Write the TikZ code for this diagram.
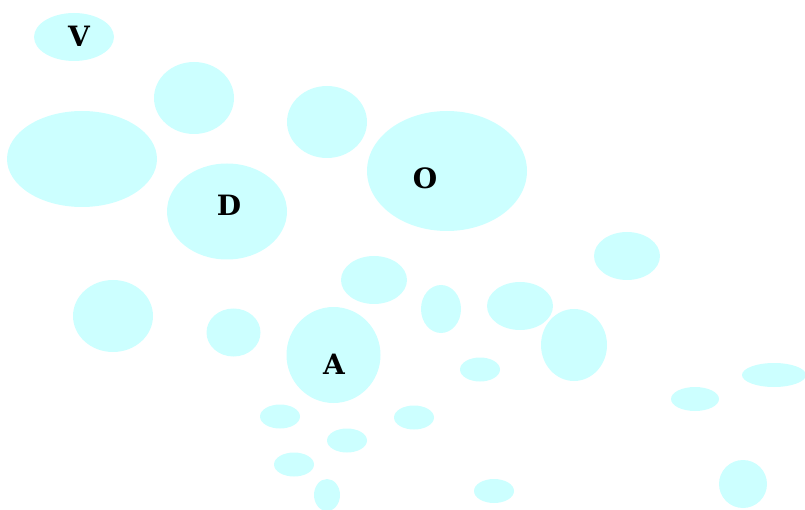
\documentclass[tikz,border=0pt]{standalone}
\usepackage{fontspec}
\setmainfont{DejaVu Serif}
\usepackage{tikz}
\usetikzlibrary{shapes.geometric}
\definecolor{blobcyan}{RGB}{204,255,255}
\tikzset{
  blob/.style={ellipse,fill=blobcyan,draw=none,inner sep=0pt},
  blobtag/.style={font=\fontsize{28}{30}\selectfont\bfseries,inner sep=0pt}
}
\newcommand{\blob}[5]{%
  \node[blob,minimum width=2*#4,minimum height=2*#5] (#1) at (#2,#3) {};
}
\newcommand{\blobtag}[4]{%
  \node[blobtag] (#1) at (#2,#3) {#4};
}

\begin{document}
\begin{tikzpicture}[x=1pt,y=-1pt]
    \useasboundingbox (0,0) rectangle (805,510);
    \blob{blobV}{74}{37}{40}{24}
    \blob{b1}{194}{98}{40}{36}
    \blob{b2}{82}{159}{75}{48}
    \blob{b3}{327}{122}{40}{36}
    \blob{blobO}{447}{171}{80}{60}
    \blob{blobD}{227}{211.5}{60}{48}
    \blob{b4}{627}{256}{33}{24}
    \blob{b5}{374}{280}{33}{24}
    \blob{b6}{113}{316}{40}{36}
    \blob{b7}{441}{309}{20}{24}
    \blob{b8}{520}{306}{33}{24}
    \blob{b9}{233.5}{332.5}{27}{24}
    \blob{blobA}{333.5}{355}{47}{48}
    \blob{b10}{574}{345}{33}{36}
    \blob{b11}{480}{369.5}{20}{12}
    \blob{b12}{774}{375}{32}{12}
    \blob{b13}{695}{399}{24}{12}
    \blob{b14}{280}{416.5}{20}{12}
    \blob{b15}{414}{417.5}{20}{12}
    \blob{b16}{347}{440.5}{20}{12}
    \blob{b17}{294}{464.5}{20}{12}
    \blob{b18}{494}{491}{20}{12}
    \blob{b19}{327}{495}{13}{16}
    \blob{b20}{743}{484}{24}{24}
    \blobtag{tagV}{79}{36}{V}
    \blobtag{tagD}{229}{205}{D}
    \blobtag{tagO}{425}{178}{O}
    \blobtag{tagA}{334}{364}{A}
  \end{tikzpicture}
\end{document}
